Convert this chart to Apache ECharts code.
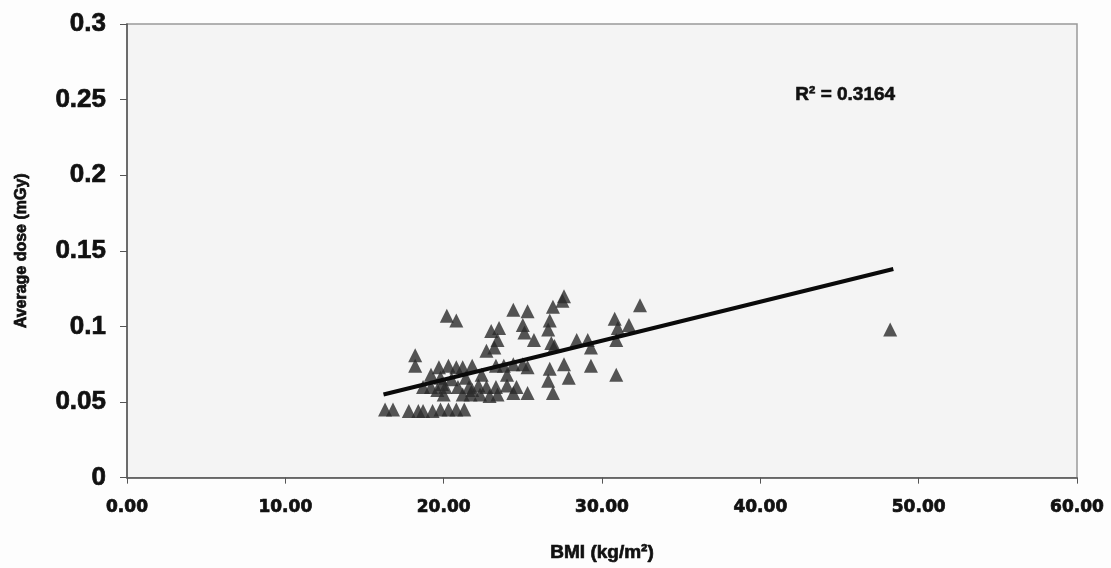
<!DOCTYPE html>
<html>
<head>
<meta charset="utf-8">
<script src="https://cdn.jsdelivr.net/npm/echarts@6/dist/echarts.min.js"></script>
<style>
  html, body { margin: 0; padding: 0; background: #fff; }
  #chart { width: 1111px; height: 568px; }
</style>
</head>
<body>
<div id="chart"></div>
<script>
// BMI (kg/m2) of each patient
const bmi = [
  16.3, 16.8, 17.8, 18.4, 18.7, 19.3, 19.8, 20.3, 20.8, 21.3,
  20.0, 21.2, 21.7, 22.3, 22.9, 23.4,
  18.7, 19.2, 20.1, 20.9, 21.6, 22.2, 22.7, 23.3, 24.0, 24.6,
  24.4, 25.3, 26.9, 19.8, 19.9,
  19.2, 19.7, 20.3, 20.8, 21.2, 21.8,
  23.3, 23.8, 24.4, 25.0, 25.3, 26.7, 27.6, 29.3,
  26.6, 27.9, 30.9,
  18.2, 18.2, 22.7, 23.2,
  23.0, 23.5, 23.4, 25.0, 25.1, 25.7, 26.7, 26.6, 26.8, 27.0,
  28.4, 29.1, 29.3, 30.9,
  20.2, 20.8, 24.4, 25.3, 26.9, 27.5, 27.6,
  30.8, 31.0, 31.7, 32.4,
  20.5, 21.4, 22.4, 19.6, 21.8, 24.0,
  48.2
];
// Average dose (mGy) of each patient
const dose = [
  0.045, 0.045, 0.044, 0.044, 0.044, 0.044, 0.045, 0.045, 0.045, 0.045,
  0.055, 0.055, 0.055, 0.055, 0.054, 0.055,
  0.060, 0.060, 0.060, 0.060, 0.060, 0.061, 0.060, 0.060, 0.061, 0.060,
  0.056, 0.056, 0.056, 0.066, 0.062,
  0.068, 0.073, 0.074, 0.073, 0.073, 0.074,
  0.074, 0.074, 0.075, 0.075, 0.073, 0.072, 0.075, 0.074,
  0.064, 0.066, 0.068,
  0.081, 0.074, 0.084, 0.086,
  0.097, 0.099, 0.091, 0.101, 0.096, 0.091, 0.104, 0.098, 0.089, 0.087,
  0.091, 0.091, 0.086, 0.091,
  0.107, 0.104, 0.111, 0.110, 0.113, 0.117, 0.120,
  0.105, 0.099, 0.101, 0.114,
  0.065, 0.066, 0.068, 0.058, 0.058, 0.068,
  0.098
];
// linear trend line end points
const trendX = [16.2, 48.4];
const trendY = [0.055, 0.138];
const rSquared = 'R² = 0.3164';

const points = bmi.map((b, i) => [b, dose[i]]);
const trend = trendX.map((x, i) => [x, trendY[i]]);

const chart = echarts.init(document.getElementById('chart'));
// heavy bold look of the original
const heavy = {
  fontFamily: 'Liberation Sans', fontWeight: 'bold', color: '#111',
  textBorderColor: '#111', textBorderWidth: 0.7
};

chart.setOption({
  animation: false,
  backgroundColor: '#fdfdfd',
  grid: {
    left: 127, right: 34, top: 24, bottom: 88,
    show: true,
    backgroundColor: '#f4f4f4',
    borderColor: '#999',
    borderWidth: 1.5
  },
  xAxis: {
    type: 'value',
    min: 0, max: 60, interval: 10,
    name: 'BMI (kg/m²)',
    nameLocation: 'middle',
    nameGap: 66,
    nameTextStyle: Object.assign({}, heavy, { fontSize: 19 }),
    axisLine: { lineStyle: { color: '#555', width: 1.5 } },
    axisTick: { show: true, length: 6, lineStyle: { color: '#555' } },
    splitLine: { show: false },
    axisLabel: Object.assign({}, heavy, {
      fontFamily: 'DejaVu Sans', fontSize: 17, margin: 21,
      formatter: v => v.toFixed(2)
    })
  },
  yAxis: {
    type: 'value',
    min: 0, max: 0.3, interval: 0.05,
    name: 'Average dose (mGy)',
    nameLocation: 'middle',
    nameGap: 97,
    nameTextStyle: Object.assign({}, heavy, { fontSize: 16 }),
    axisLine: { show: true, lineStyle: { color: '#555', width: 1.5 } },
    axisTick: { show: true, length: 7, lineStyle: { color: '#555' } },
    splitLine: { show: false },
    axisLabel: Object.assign({}, heavy, { fontSize: 26, margin: 21 })
  },
  series: [
    {
      type: 'scatter',
      data: points,
      symbol: 'triangle',
      symbolSize: 14,
      itemStyle: { color: '#2b2b2b' }
    },
    {
      type: 'line',
      data: trend,
      symbol: 'none',
      lineStyle: { color: '#0a0a0a', width: 4 },
      z: 3
    }
  ],
  graphic: [
    {
      type: 'text',
      left: 795,
      top: 85,
      style: {
        text: rSquared,
        font: 'bold 19px "Liberation Sans"',
        fill: '#111',
        stroke: '#111',
        lineWidth: 0.6
      }
    }
  ]
});
</script>
</body>
</html>
